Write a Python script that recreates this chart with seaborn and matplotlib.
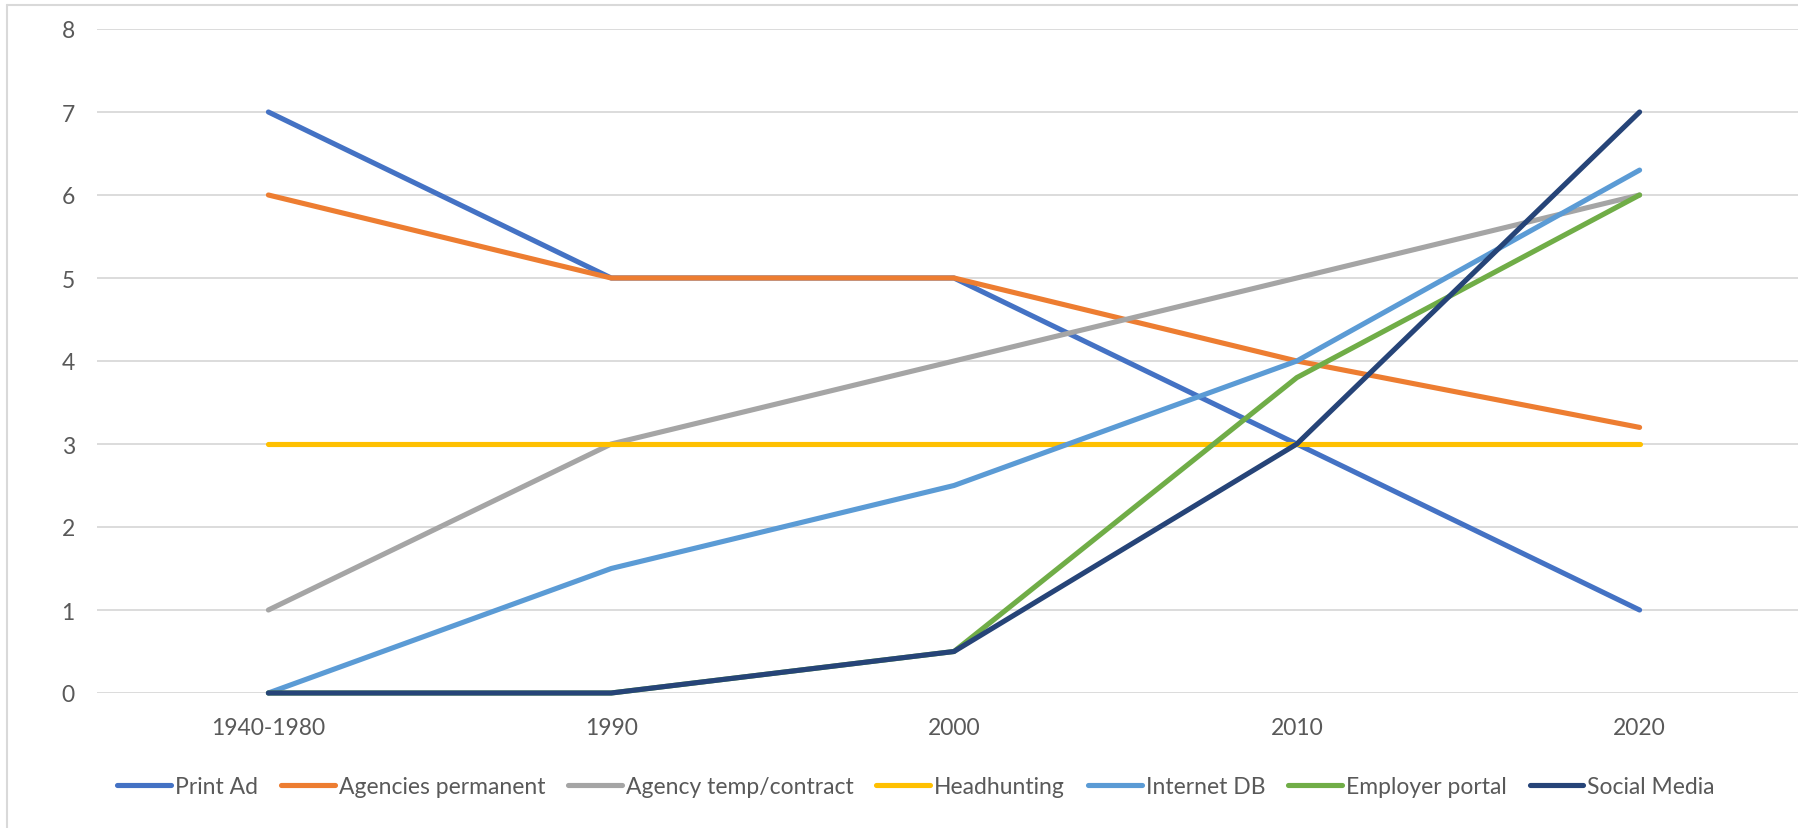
import pandas as pd
import matplotlib.pyplot as plt
import seaborn as sns
from matplotlib.lines import Line2D

# Data
periods = ["1940-1980", "1990", "2000", "2010", "2020"]
print_ad = [7, 5, 5, 3, 1]
agencies_permanent = [6, 5, 5, 4, 3.2]
agency_temp = [1, 3, 4, 5, 6]
headhunting = [3, 3, 3, 3, 3]
internet_db = [0, 1.5, 2.5, 4, 6.3]
employer_portal = [0, 0, 0.5, 3.8, 6]
social_media = [0, 0, 0.5, 3, 7]

series_names = ["Print Ad", "Agencies permanent", "Agency temp/contract",
                "Headhunting", "Internet DB", "Employer portal", "Social Media"]
series_values = [print_ad, agencies_permanent, agency_temp, headhunting,
                 internet_db, employer_portal, social_media]
colors = ["#4472C4", "#ED7D31", "#A5A5A5", "#FFC000", "#5B9BD5", "#70AD47", "#264478"]

# long-form table for seaborn
rows = []
for name, vals in zip(series_names, series_values):
    for p, v in zip(periods, vals):
        rows.append({"period": p, "value": v, "series": name})
df = pd.DataFrame(rows)

sns.set_theme(style="white")
plt.rcParams["font.family"] = ["Lato", "DejaVu Sans"]
text_color = "#595959"
fs = 16.5

W, H = 1798, 829
fig = plt.figure(figsize=(W / 100, H / 100), dpi=100)
# plot area: grid starts at x=97, extends past the right edge (reference is cropped)
ax = fig.add_axes([97 / W, (H - 694) / H, (1811 - 97) / W, (694 - 30) / H])

sns.lineplot(data=df, x="period", y="value", hue="series", hue_order=series_names,
             palette=colors, sort=False, linewidth=3.7, ax=ax, legend=False)
for line in ax.get_lines():
    line.set_solid_capstyle("round")
    line.set_solid_joinstyle("round")
    line.set_clip_on(False)
    line.set_zorder(3)

ax.set_xlim(-0.5, 4.5)
ax.set_ylim(0, 8)
ax.set_yticks(range(0, 9))
ax.yaxis.grid(True, color="#D9D9D9", linewidth=1.3)
ax.set_axisbelow(True)
for s in ax.spines.values():
    s.set_visible(False)
ax.tick_params(axis="both", length=0, labelsize=fs, colors=text_color)
ax.tick_params(axis="y", pad=16)
ax.tick_params(axis="x", pad=17)
ax.set_xlabel("")
ax.set_ylabel("")

# legend along the bottom
handles = [Line2D([0], [0], color=c, lw=3.7, solid_capstyle="round") for c in colors]
leg = fig.legend(handles, series_names, loc="center", bbox_to_anchor=(916 / W, (H - 788) / H),
                 ncol=7, frameon=False, fontsize=fs, handlelength=2.35, handletextpad=0.17,
                 columnspacing=1.0, labelcolor=text_color)

# chart area border (left and top edges visible in reference)
fig.add_artist(Line2D([7 / W, 7 / W], [0, 1 - 6 / H], color="#D9D9D9", lw=1.5))
fig.add_artist(Line2D([7 / W, 1], [1 - 6 / H, 1 - 6 / H], color="#D9D9D9", lw=1.5))

fig.savefig("out.png", dpi=100)
